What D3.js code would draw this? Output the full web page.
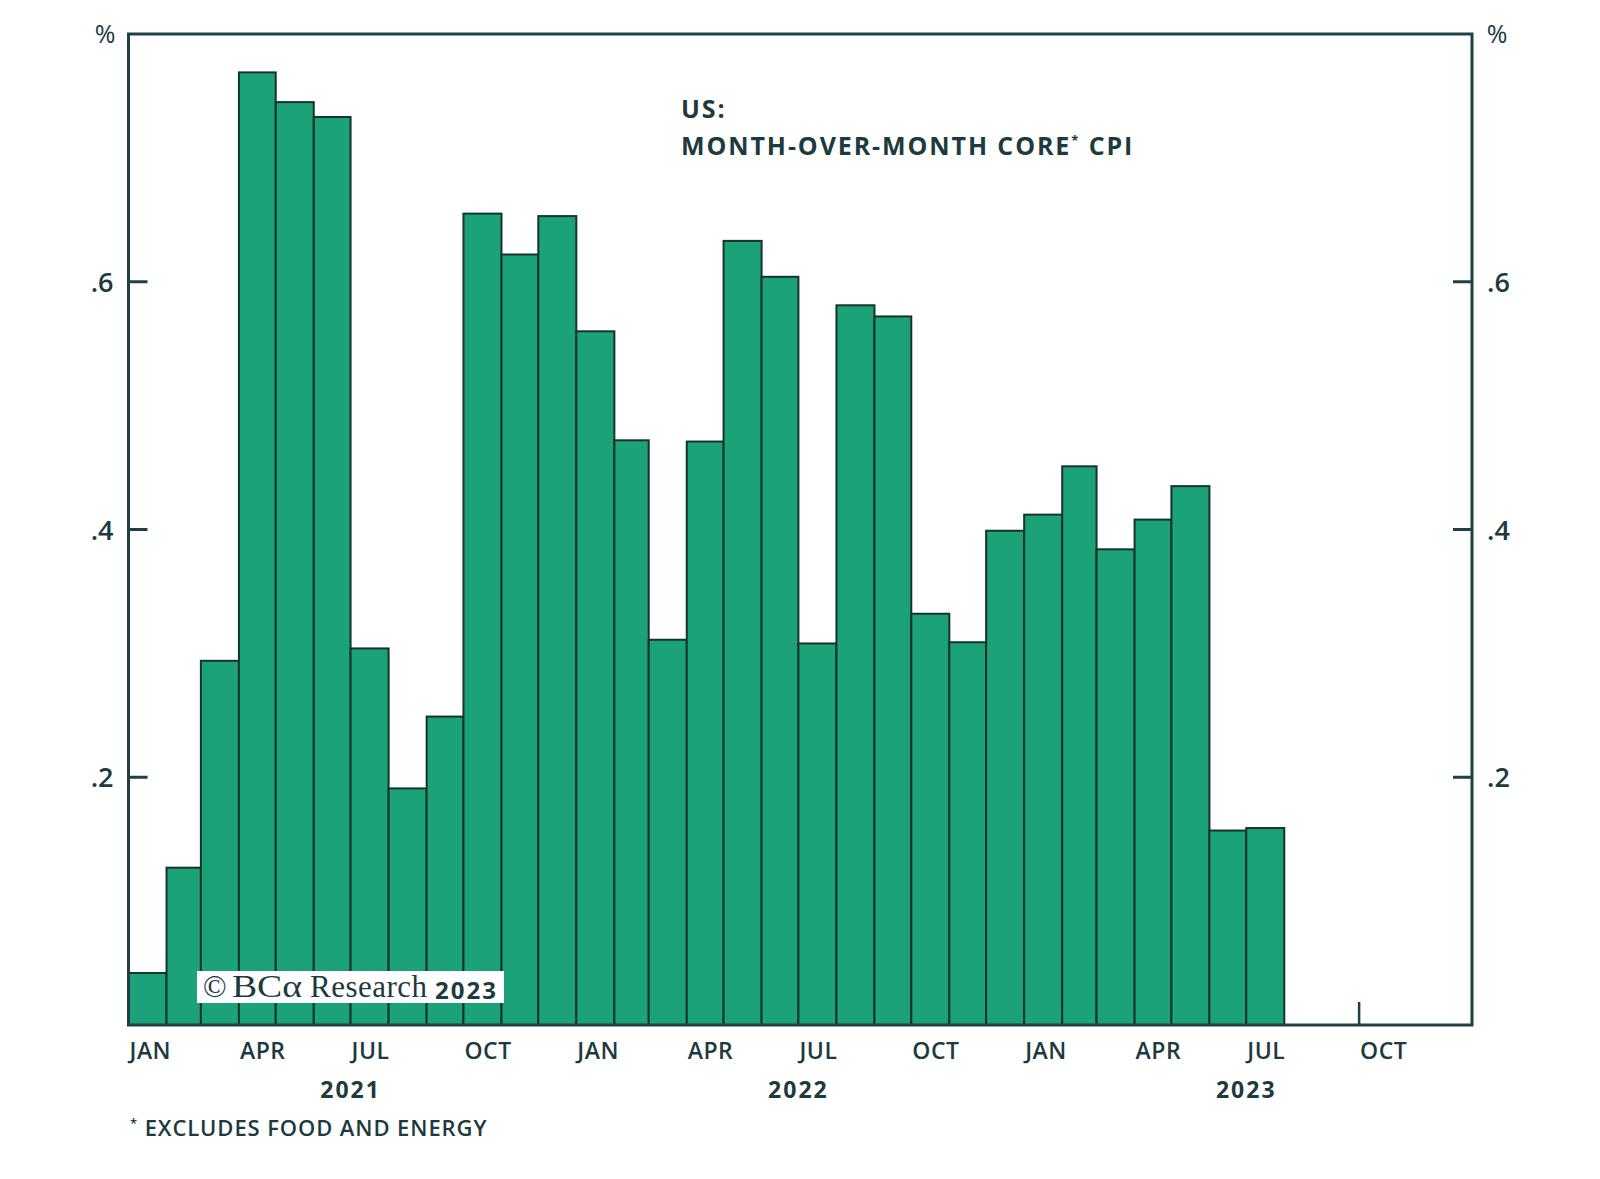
<!DOCTYPE html>
<html>
<head>
<meta charset="utf-8">
<script src="https://cdn.jsdelivr.net/npm/d3@7"></script>
<style>
  body { margin: 0; background: #fff; }
  text { font-family: "Open Sans", sans-serif; fill: #1d3a3e; }
</style>
</head>
<body>
<div id="chart"></div>
<script>
// monthly core CPI, % m/m, Jan 2021 .. Jul 2023
const months = d3.range(31).map(i => new Date(2021, i, 1));
const values = [0.042, 0.127, 0.294, 0.769, 0.745, 0.733, 0.304, 0.191, 0.249, 0.655, 0.622, 0.653,
                0.560, 0.472, 0.311, 0.471, 0.633, 0.604, 0.308, 0.581, 0.572, 0.332, 0.309, 0.399,
                0.412, 0.451, 0.384, 0.408, 0.435, 0.157, 0.159];
const yTicks = [0.2, 0.4, 0.6];
const monthLabels = ["JAN", "APR", "JUL", "OCT"];
const years = [2021, 2022, 2023];

const W = 1600, H = 1179;
const mLeft = 128.5, mRight = 1472, mTop = 34, mBottom = 1025;
const axisColor = "#1f4046";

const svg = d3.select("#chart").append("svg")
    .attr("width", W).attr("height", H);

const x = d3.scaleTime()
    .domain([new Date(2021, 0, 1), new Date(2024, 0, 1)])
    .range([mLeft, mRight]);
const y = d3.scaleLinear().domain([0, 0.8]).range([mBottom, mTop]);

// quarter ticks on the bottom axis (drawn under the bars)
const quarters = d3.timeMonth.every(3).range(new Date(2021, 0, 1), new Date(2024, 0, 1));
svg.append("g").selectAll("line").data(quarters).enter().append("line")
    .attr("x1", d => x(d)).attr("x2", d => x(d))
    .attr("y1", mBottom).attr("y2", mBottom - 23)
    .attr("stroke", axisColor).attr("stroke-width", 2.5);

// bars
svg.append("g").selectAll("rect").data(values).enter().append("rect")
    .attr("x", (d, i) => x(months[i]))
    .attr("width", (d, i) => x(d3.timeMonth.offset(months[i], 1)) - x(months[i]))
    .attr("y", d => y(d))
    .attr("height", d => y(0) - y(d))
    .attr("fill", "#1ca278")
    .attr("stroke", "#17332c")
    .attr("stroke-width", 2);

// frame
svg.append("rect")
    .attr("x", mLeft).attr("y", mTop)
    .attr("width", mRight - mLeft).attr("height", mBottom - mTop)
    .attr("fill", "none").attr("stroke", axisColor).attr("stroke-width", 3);

// y ticks, both sides, pointing inward
const yg = svg.append("g");
yg.selectAll(".tl").data(yTicks).enter().append("line")
    .attr("x1", mLeft).attr("x2", mLeft + 19)
    .attr("y1", d => y(d)).attr("y2", d => y(d))
    .attr("stroke", axisColor).attr("stroke-width", 3);
yg.selectAll(".tr").data(yTicks).enter().append("line")
    .attr("x1", mRight - 19).attr("x2", mRight)
    .attr("y1", d => y(d)).attr("y2", d => y(d))
    .attr("stroke", axisColor).attr("stroke-width", 3);
const fmt = d => d3.format(".1f")(d).replace(/^0/, "");
yg.selectAll(".ll").data(yTicks).enter().append("text")
    .attr("x", mLeft - 15).attr("y", d => y(d) + 10)
    .attr("text-anchor", "end")
    .style("font-size", "27px").style("font-weight", 600)
    .text(fmt);
yg.selectAll(".lr").data(yTicks).enter().append("text")
    .attr("x", mRight + 15).attr("y", d => y(d) + 10)
    .style("font-size", "27px").style("font-weight", 600)
    .text(fmt);
svg.append("text").attr("x", 105).attr("y", 43)
    .attr("text-anchor", "middle")
    .style("font-size", "25px").text("%");
svg.append("text").attr("x", 1497).attr("y", 43)
    .attr("text-anchor", "middle")
    .style("font-size", "25px").text("%");

// month labels, left aligned at month start
svg.append("g").selectAll("text").data(quarters).enter().append("text")
    .attr("x", d => x(d) + 1).attr("y", 1059)
    .style("font-size", "23px").style("font-weight", 600)
    .style("letter-spacing", "0.5px")
    .text(d => monthLabels[d.getMonth() / 3]);

// year labels centred on the year
svg.append("g").selectAll("text").data(years).enter().append("text")
    .attr("x", d => x(new Date(d, 6, 1)))
    .attr("y", 1098)
    .attr("text-anchor", "middle")
    .style("font-size", "23px").style("font-weight", 700)
    .style("letter-spacing", "2px")
    .text(d => d);

// title
svg.append("text").attr("x", 681).attr("y", 118)
    .style("font-size", "25px").style("font-weight", 700)
    .style("letter-spacing", "1.9px").text("US:");
const t2 = svg.append("text").attr("x", 681).attr("y", 155)
    .style("font-size", "25px").style("font-weight", 700)
    .style("letter-spacing", "1.9px");
t2.append("tspan").text("MONTH-OVER-MONTH CORE");
t2.append("tspan").attr("dy", -10).style("font-size", "13px").text("*");
t2.append("tspan").attr("dy", 10).text(" CPI");

// footnote
const fn = svg.append("text").attr("x", 130).attr("y", 1136)
    .style("font-size", "22px").style("font-weight", 600)
    .style("letter-spacing", "0.9px");
fn.append("tspan").attr("dy", -8).style("font-size", "13px").text("*");
fn.append("tspan").attr("dy", 8).text(" EXCLUDES FOOD AND ENERGY");

// copyright box
svg.append("rect").attr("x", 197).attr("y", 971)
    .attr("width", 307).attr("height", 32).attr("fill", "#fff");
const serif = "'Liberation Serif', 'DejaVu Serif', serif";
svg.append("text").attr("x", 203).attr("y", 997)
    .style("font-family", serif).style("font-size", "31px").text("©");
svg.append("text").attr("x", 232).attr("y", 997)
    .style("font-family", serif).style("font-size", "31px")
    .attr("textLength", 70).attr("lengthAdjust", "spacingAndGlyphs").text("BCα");
svg.append("text").attr("x", 310).attr("y", 997)
    .style("font-family", serif).style("font-size", "31px")
    .attr("textLength", 117).text("Research");
svg.append("text").attr("x", 435).attr("y", 999)
    .style("font-size", "24px").style("font-weight", 700)
    .style("letter-spacing", "2px").text("2023");
</script>
</body>
</html>
